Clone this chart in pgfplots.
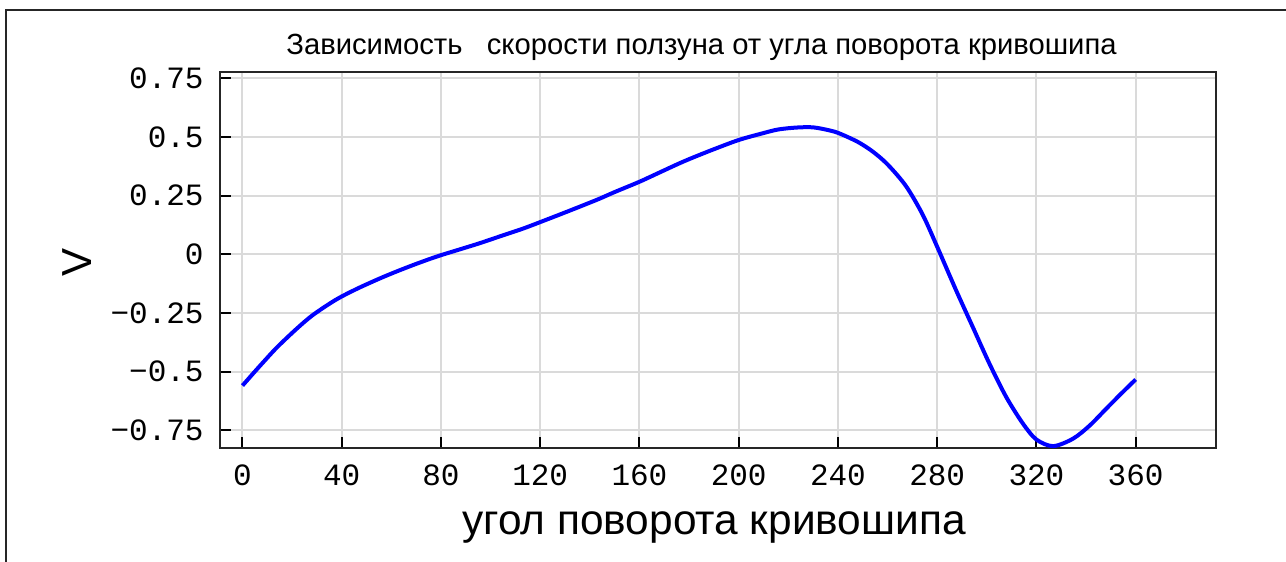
\documentclass[border=0pt]{standalone}
\usepackage{fontspec}
\setmainfont{Liberation Sans}
\setmonofont{Liberation Mono}
\usepackage{pgfplots}
\pgfplotsset{compat=1.18}
\definecolor{gridc}{RGB}{218,218,218}
\begin{document}
\begin{tikzpicture}
\begin{scope}[x=0.5bp,y=0.5bp]
\useasboundingbox (-220,-114) rectangle (1066,448);
\draw[line width=1.4bp,black!85] (-214,-120) -- (-214,438) -- (1070,438);
\node[anchor=base, inner sep=0pt, font=\fontsize{14.6bp}{16bp}\selectfont] at (481.5,393) {Зависимость\ \ \ скорости ползуна от угла поворота кривошипа};
\node[anchor=base, inner sep=0pt, font=\fontsize{21.2bp}{24bp}\selectfont] at (494,-87) {угол поворота кривошипа};
\node[rotate=90, inner sep=0pt, font=\fontsize{21bp}{24bp}\selectfont] at (-143,186) {V};
\end{scope}
\begin{axis}[
  scale only axis, width=498bp, height=188bp,
  xmin=-9.06, xmax=392.4, ymin=-0.826, ymax=0.777,
  xtick={0,40,...,360},
  ytick={-0.75,-0.5,-0.25,0,0.25,0.5,0.75},
  yticklabels={−0.75,−0.5,−0.25,0,0.25,0.5,0.75},
  xticklabels={0,40,80,120,160,200,240,280,320,360},
  xtick pos=bottom, ytick pos=left,
  tick align=inside,
  major tick length=5.5bp,
  tick style={black, line width=1bp},
  axis line style={black!85, line width=1.2bp},
  grid=major,
  major grid style={gridc, line width=1bp},
  ticklabel style={font=\fontsize{15.5bp}{17bp}\ttfamily, inner sep=0pt},
  yticklabel style={anchor=east, xshift=-8bp},
  xticklabel style={anchor=north, yshift=-8bp},
  clip=false,
]
\addplot[blue, line width=2bp, smooth, tension=0.5] coordinates {
(0,-0.560) (5,-0.500) (8.4,-0.460) (14,-0.396) (21.8,-0.318) (28,-0.262)
(35.2,-0.210) (40,-0.180) (47,-0.143) (55.4,-0.103) (62,-0.074)
(68.8,-0.046) (75,-0.022) (80,-0.004) (88,0.022) (95.6,0.047) (104,0.077)
(113,0.109) (120,0.137) (130,0.178) (142.6,0.231) (150,0.265) (160,0.309)
(168,0.348) (176.2,0.388) (182,0.414) (189.6,0.446) (200,0.487) (209.8,0.516)
(216,0.532) (223.2,0.540) (229.9,0.541) (236.6,0.528) (240.6,0.515)
(248,0.479) (254,0.438) (260,0.383) (267.4,0.291) (274.1,0.170) (280,0.032)
(287.6,-0.153) (294.3,-0.309) (301,-0.465) (307.8,-0.608) (314.5,-0.721)
(320,-0.790) (326.8,-0.818) (334.8,-0.786) (341.4,-0.731) (348.1,-0.659)
(354,-0.596) (360,-0.534)
};
\end{axis}
\end{tikzpicture}
\end{document}
